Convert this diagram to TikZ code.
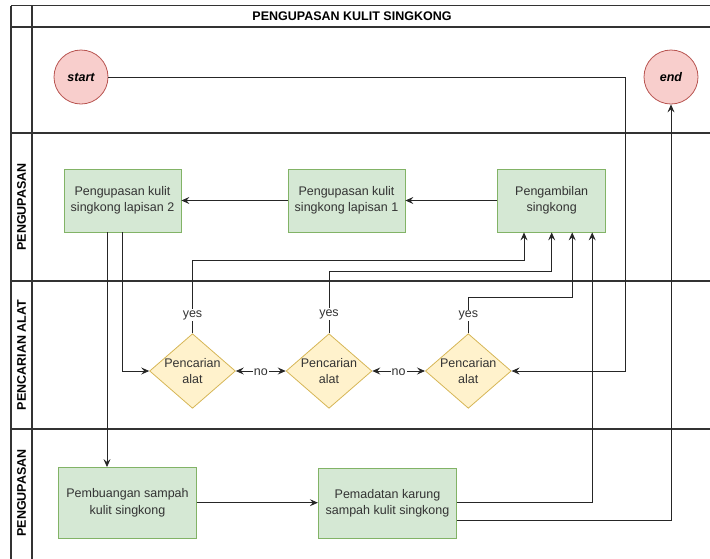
\documentclass[tikz,border=0pt]{standalone}
\usepackage{fontspec}
\setmainfont{Liberation Sans}
\usetikzlibrary{shapes.geometric,arrows.meta}
\definecolor{gfill}{HTML}{D5E8D4}
\definecolor{gline}{HTML}{82B366}
\definecolor{yfill}{HTML}{FFF2CC}
\definecolor{yline}{HTML}{D6B656}
\definecolor{rfill}{HTML}{F8CECC}
\definecolor{rline}{HTML}{B85450}
\definecolor{txt}{HTML}{333333}
\tikzset{
  lane/.style={line width=1.1pt, draw=black!80},
  procbox/.style={draw=gline, fill=gfill, line width=0.8pt, minimum width=117pt, minimum height=63pt, align=center, font=\fontsize{12.5}{16.5}\selectfont, text=txt, inner sep=0pt},
  decis/.style={diamond, draw=yline, fill=yfill, line width=0.8pt, minimum width=85pt, minimum height=74pt, aspect=1.15, align=center, font=\fontsize{12.5}{16.5}\selectfont, text=txt, inner sep=0pt},
  term/.style={circle, draw=rline, fill=rfill, line width=0.8pt, minimum size=54pt, inner sep=0pt, font=\fontsize{12.5}{15}\selectfont\bfseries\itshape},
  arr/.style={draw=black!85, line width=0.8pt, -{Stealth[length=8pt,width=7pt,inset=3pt]}},
  arrb/.style={draw=black!85, line width=0.8pt, {Stealth[length=8pt,width=7pt,inset=3pt]}-{Stealth[length=8pt,width=7pt,inset=3pt]}},
  lbl/.style={fill=white, inner sep=1pt, font=\fontsize{12.5}{15}\selectfont, text=txt},
  lanelbl/.style={rotate=90, font=\fontsize{12.5}{15}\selectfont\bfseries},
}
\begin{document}
\begin{tikzpicture}[x=1pt, y=-1pt]
\useasboundingbox (0,0) rectangle (710,558);
% pool / lanes
\draw[lane] (11,5.5) -- (715,5.5);
\draw[lane] (11,5.5) -- (11,565);
\draw[lane] (32,5.5) -- (32,565);
\draw[lane] (11,27) -- (715,27);
\draw[lane] (11,133) -- (715,133);
\draw[lane] (11,281) -- (715,281);
\draw[lane] (11,429) -- (715,429);
\node[font=\fontsize{12.5}{15}\selectfont\bfseries] (title) at (352,16) {PENGUPASAN KULIT SINGKONG};
\node[lanelbl] (l2) at (21.5,207) {PENGUPASAN};
\node[lanelbl] (l3) at (21.5,355) {PENCARIAN ALAT};
\node[lanelbl] (l4) at (21.5,493) {PENGUPASAN};
% nodes
\node[term] (start) at (81,77) {start};
\node[term] (end) at (671,77) {end};
\node[procbox] (L2) at (122.5,200.5) {Pengupasan kulit\\singkong lapisan 2};
\node[procbox] (L1) at (346.5,200.5) {Pengupasan kulit\\singkong lapisan 1};
\node[procbox, minimum width=108pt] (P0) at (551.7,200.5) {Pengambilan\\singkong};
\node[decis] (D1) at (192.5,371) {Pencarian\\alat};
\node[decis] (D2) at (329,371) {Pencarian\\alat};
\node[decis] (D3) at (468.3,371) {Pencarian\\alat};
\node[procbox, minimum width=137.5pt, minimum height=70.5pt] (B) at (127.5,502.7) {Pembuangan sampah\\kulit singkong};
\node[procbox, minimum width=138.5pt, minimum height=70.5pt] (M) at (387.5,503.5) {Pemadatan karung\\sampah kulit singkong};
% connectors
\draw[arr] (start.east) -| (625,371) -- (D3.east);
\draw[arr] (P0.west) -- (L1.east);
\draw[arr] (L1.west) -- (L2.east);
\draw[arr] (L2.south) -- (122.5,371) -- (D1.west);
\draw[arr] ([xshift=-15.5pt]L2.south) coordinate (t1) -- (t1 |- B.north);
\draw[arr] (D1.north) -- (192.5,260) -| ([xshift=-27.7pt]P0.south);
\draw[arr] (D2.north) -- (329,271) -| (P0.south);
\draw[arr] (D3.north) -- (468.3,297) -| ([xshift=20.5pt]P0.south);
\node[lbl] (y1) at (192.5,315) {yes};
\node[lbl] (y2) at (329,314) {yes};
\node[lbl] (y3) at (468.3,315.5) {yes};
\draw[arrb] (D1.east) -- node[lbl, yshift=-1pt]{no} (D2.west);
\draw[arrb] (D2.east) -- node[lbl, yshift=-1pt]{no} (D3.west);
\draw[arr] (B.east) -- (B.east -| M.west);
\draw[arr] ([yshift=0.8pt]M.east) -| ([xshift=40.5pt]P0.south);
\draw[arr] ([yshift=-17pt]M.east) -| (end.south);
\end{tikzpicture}
\end{document}
